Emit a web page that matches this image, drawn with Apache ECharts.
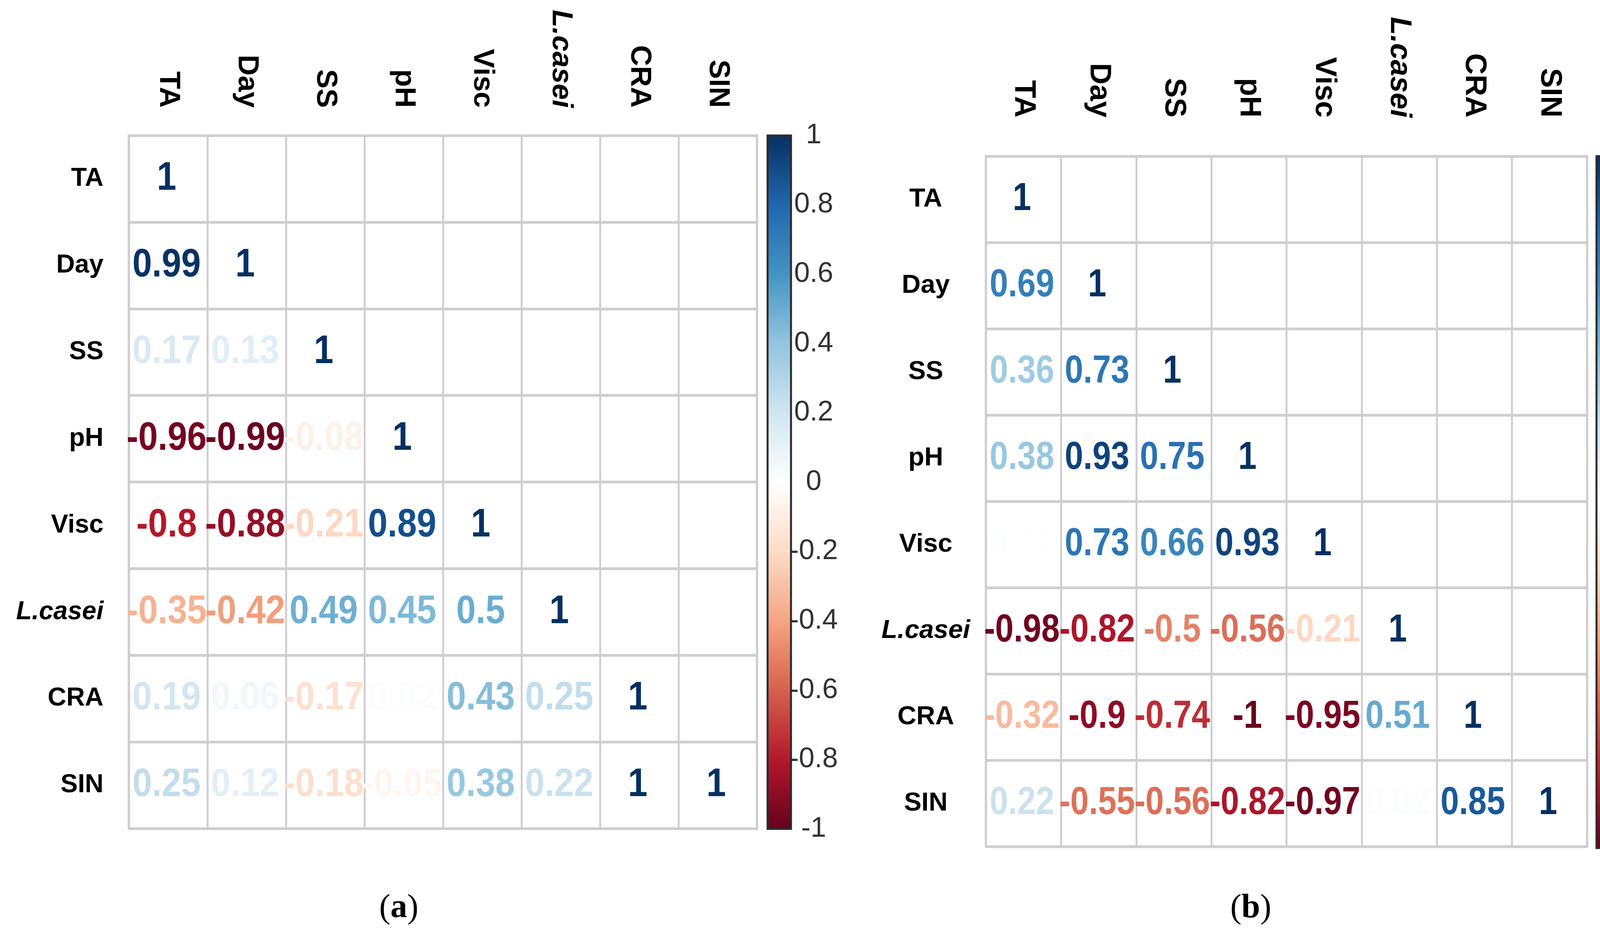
<!DOCTYPE html>
<html><head><meta charset="utf-8">
<script src="https://cdn.jsdelivr.net/npm/echarts@6/dist/echarts.min.js"></script>
<style>html,body{margin:0;padding:0;background:#fff}#c{width:4292px;height:2387px}</style>
</head><body><div id="c"></div>
<script>
// Variable names (rows & columns)
const vars = ['TA', 'Day', 'SS', 'pH', 'Visc', 'L.casei', 'CRA', 'SIN'];

// Panel (a): lower-triangle correlation rows
const aTA     = [1];
const aDay    = [0.99, 1];
const aSS     = [0.17, 0.13, 1];
const aPH     = [-0.96, -0.99, -0.08, 1];
const aVisc   = [-0.8, -0.88, -0.21, 0.89, 1];
const aLcasei = [-0.35, -0.42, 0.49, 0.45, 0.5, 1];
const aCRA    = [0.19, 0.06, -0.17, 0.02, 0.43, 0.25, 1];
const aSIN    = [0.25, 0.12, -0.18, -0.05, 0.38, 0.22, 1, 1];

// Panel (b): lower-triangle correlation rows
const bTA     = [1];
const bDay    = [0.69, 1];
const bSS     = [0.36, 0.73, 1];
const bPH     = [0.38, 0.93, 0.75, 1];
const bVisc   = [0.01, 0.73, 0.66, 0.93, 1];
const bLcasei = [-0.98, -0.82, -0.5, -0.56, -0.21, 1];
const bCRA    = [-0.32, -0.9, -0.74, -1, -0.95, 0.51, 1];
const bSIN    = [0.22, -0.55, -0.56, -0.82, -0.97, 0.02, 0.85, 1];

// Colour bar scale
const cbMin = -1, cbMax = 1, cbStep = 0.2;
const captions = ['a', 'b'];

// RdBu palette (value -1 .. 1)
const RdBu = ['#67001F','#B2182B','#D6604D','#F4A582','#FDDBC7','#FFFFFF','#D1E5F0','#92C5DE','#4393C3','#2166AC','#053061'];
function hex2rgb(h){return [parseInt(h.substr(1,2),16),parseInt(h.substr(3,2),16),parseInt(h.substr(5,2),16)];}
function rdbu(v){
  let t = (v - cbMin) / (cbMax - cbMin) * (RdBu.length - 1);
  t = Math.max(0, Math.min(RdBu.length - 1, t));
  const i = Math.min(Math.floor(t), RdBu.length - 2), f = t - i;
  const c1 = hex2rgb(RdBu[i]), c2 = hex2rgb(RdBu[i+1]);
  const c = c1.map((x, k) => Math.round(x + (c2[k] - x) * f));
  return 'rgb(' + c.join(',') + ')';
}
function toCells(rows){
  const out = [];
  rows.forEach((r, ri) => r.forEach((v, ci) => out.push([ci, ri, v])));
  return out;
}
const cellsA = toCells([aTA, aDay, aSS, aPH, aVisc, aLcasei, aCRA, aSIN]);
const cellsB = toCells([bTA, bDay, bSS, bPH, bVisc, bLcasei, bCRA, bSIN]);

const FONT = '"Liberation Sans", Arial, sans-serif';
const GRID_COL = '#cfcfcf';

function labelFmt(v){ return v === 'L.casei' ? '{it|' + v + '}' : v; }

function textRenderer(fontSize, sy){
  return function(params, api){
    const p = api.coord([api.value(0), api.value(1)]);
    const v = api.value(2);
    return {
      type: 'text', x: p[0] - 4, y: p[1], scaleY: sy,
      style: {
        text: String(v), fill: rdbu(v),
        fontSize: fontSize, fontWeight: 'bold', fontFamily: FONT,
        align: 'center', verticalAlign: 'middle',
        textAlign: 'center', textVerticalAlign: 'middle'
      }
    };
  };
}
function barRenderer(params, api){
  const p1 = api.coord([0, api.value(2)]);
  const p2 = api.coord([1, api.value(1)]);
  const stops = RdBu.map((c, i) => ({offset: 1 - i / (RdBu.length - 1), color: c})).reverse();
  return {
    type: 'rect',
    shape: {x: p1[0], y: p1[1], width: p2[0] - p1[0], height: p2[1] - p1[1]},
    style: {fill: new echarts.graphic.LinearGradient(0, 0, 0, 1, stops), stroke: '#2a2a2a', lineWidth: 5}
  };
}

function catX(gi, margin, fs){
  return {gridIndex: gi, type: 'category', data: vars, position: 'top',
    axisLine: {show: false}, axisTick: {show: false},
    splitLine: {show: true, interval: 0, lineStyle: {color: GRID_COL, width: 5}},
    axisLabel: {interval: 0, rotate: 90, margin: margin, fontSize: fs, fontWeight: 'bold', fontFamily: FONT, color: '#000',
      formatter: labelFmt, rich: {it: {fontStyle: 'italic', fontWeight: 'bold', fontSize: fs, fontFamily: FONT, color: '#000'}}}};
}
function catY(gi, margin, fs, align){
  return {gridIndex: gi, type: 'category', data: vars, inverse: true,
    axisLine: {show: false}, axisTick: {show: false},
    splitLine: {show: true, interval: 0, lineStyle: {color: GRID_COL, width: 7}},
    axisLabel: {interval: 0, margin: margin, align: align, fontSize: fs, fontWeight: 'bold', fontFamily: FONT, color: '#000',
      formatter: labelFmt, rich: {it: {fontStyle: 'italic', fontWeight: 'bold', fontSize: fs, fontFamily: FONT, color: '#000'}}}};
}
function cbX(gi){ return {gridIndex: gi, type: 'value', min: 0, max: 1, show: false}; }
function cbY(gi, margin){
  return {gridIndex: gi, type: 'value', min: cbMin, max: cbMax, interval: cbStep, position: 'right',
    axisLine: {show: false}, splitLine: {show: false},
    axisTick: {show: true, length: 12, lineStyle: {color: '#2a2a2a', width: 4}},
    axisLabel: {show: true, align: 'center', margin: margin, fontSize: 72, fontFamily: FONT, color: '#333',
      formatter: v => String(Math.round(v * 10) / 10)}};
}

const chart = echarts.init(document.getElementById('c'));
chart.setOption({
  backgroundColor: '#fff',
  animation: false,
  grid: [
    {left: 330, top: 347, width: 1608, height: 1775, show: true, borderColor: GRID_COL, borderWidth: 6},
    {left: 2524, top: 400, width: 1539, height: 1768, show: true, borderColor: GRID_COL, borderWidth: 6},
    {left: 1965, top: 347, width: 60, height: 1776},
    {left: 4087, top: 400, width: 60, height: 1772}
  ],
  xAxis: [catX(0, 71, 74), catX(1, 99, 76), cbX(2), cbX(3)],
  yAxis: [catY(0, 65, 66, 'right'), catY(1, 154, 67, 'center'), cbY(2, 58), cbY(3, 58)],
  series: [
    {type: 'custom', xAxisIndex: 0, yAxisIndex: 0, data: cellsA, renderItem: textRenderer(90, 1.14), silent: true},
    {type: 'custom', xAxisIndex: 1, yAxisIndex: 1, data: cellsB, renderItem: textRenderer(85, 1.18), silent: true},
    {type: 'custom', xAxisIndex: 2, yAxisIndex: 2, data: [[0, cbMin, cbMax]], renderItem: barRenderer, silent: true},
    {type: 'custom', xAxisIndex: 3, yAxisIndex: 3, data: [[0, cbMin, cbMax]], renderItem: barRenderer, silent: true}
  ],
  graphic: [
    {type: 'text', x: 1021, y: 2327, style: {text: '({b|' + captions[0] + '})', fontSize: 86, fontFamily: '"Liberation Serif", "Times New Roman", serif', fill: '#000',
      align: 'center', verticalAlign: 'middle', textAlign: 'center', textVerticalAlign: 'middle',
      rich: {b: {fontWeight: 'bold', fontSize: 86, fontFamily: '"Liberation Serif", serif', fill: '#000', color: '#000'}}}},
    {type: 'text', x: 3202, y: 2327, style: {text: '({b|' + captions[1] + '})', fontSize: 86, fontFamily: '"Liberation Serif", "Times New Roman", serif', fill: '#000',
      align: 'center', verticalAlign: 'middle', textAlign: 'center', textVerticalAlign: 'middle',
      rich: {b: {fontWeight: 'bold', fontSize: 86, fontFamily: '"Liberation Serif", serif', fill: '#000', color: '#000'}}}}
  ]
});
</script></body></html>
